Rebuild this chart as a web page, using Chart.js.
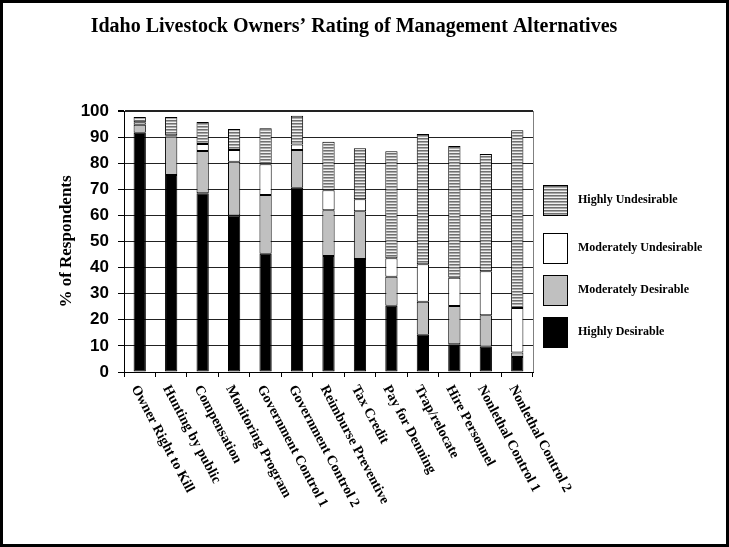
<!DOCTYPE html>
<html>
<head>
<meta charset="utf-8">
<script src="https://cdn.jsdelivr.net/npm/chart.js@4/dist/chart.umd.min.js"></script>
<style>
    html, body { margin: 0; padding: 0; background: #fff; }
    #wrap { width: 729px; height: 547px; position: relative; }
</style>
</head>
<body>
<div id="wrap"><canvas id="ratingChart" width="729" height="547"></canvas></div>
<script>
const chartTitle = 'Idaho Livestock Owners\u2019 Rating of Management Alternatives';
const yAxisTitle = '% of Respondents';

const alternatives = [
    'Owner Right to Kill', 'Hunting by public', 'Compensation', 'Monitoring Program',
    'Government Control 1', 'Government Control 2', 'Reimburse Preventive', 'Tax Credit',
    'Pay for Denning', 'Trap/relocate', 'Hire Personnel', 'Nonlethal Control 1', 'Nonlethal Control 2'
];

const seriesNames = ['Highly Desirable', 'Moderately Desirable', 'Moderately Undesirable', 'Highly Undesirable'];

// valeurs (%)
const highlyDesirable      = [91.7, 75.5, 68.5, 60.0, 45.3, 70.6, 44.4, 43.3, 25.4, 14.3, 10.6, 9.7, 5.7];
const moderatelyDesirable  = [3.0, 14.7, 16.2, 20.6, 22.5, 14.5, 17.6, 18.3, 11.1, 12.6, 14.7, 12.0, 1.8];
const moderatelyUndesirable = [1.0, 0.5, 2.7, 4.5, 11.8, 2.1, 7.6, 4.6, 7.1, 14.4, 10.8, 16.9, 17.0];
const highlyUndesirable    = [2.0, 7.0, 8.4, 8.0, 13.8, 11.0, 18.6, 19.5, 41.0, 49.9, 50.5, 44.9, 68.1];

const yTicks = [0, 10, 20, 30, 40, 50, 60, 70, 80, 90, 100];

// motif à rayures horizontales
function makeStripes() {
    const c = document.createElement('canvas');
    c.width = 4;
    c.height = 3;
    const g = c.getContext('2d');
    g.fillStyle = '#f0f0f0';
    g.fillRect(0, 0, 4, 3);
    g.fillStyle = '#707070';
    g.fillRect(0, 0, 4, 1);
    g.fillStyle = '#a8a8a8';
    g.fillRect(0, 1, 4, 1);
    return g.createPattern(c, 'repeat');
}

const stripes = makeStripes();
const fills = ['#000000', '#c0c0c0', '#ffffff', stripes];

const serif = '"Liberation Serif", "Times New Roman", serif';
const sans = '"Liberation Sans", Arial, sans-serif';

const decorPlugin = {
    id: 'decor',
    afterDraw(chart) {
        const ctx = chart.ctx;
        const area = chart.chartArea;
        const xScale = chart.scales.x;
        ctx.save();

        // titre
        ctx.fillStyle = '#000';
        ctx.font = 'bold 20px ' + serif;
        ctx.textAlign = 'center';
        ctx.textBaseline = 'middle';
        ctx.fillText(chartTitle, 354, 27);

        // bord droit de la zone
        ctx.strokeStyle = '#808080';
        ctx.lineWidth = 1;
        ctx.beginPath();
        ctx.moveTo(Math.round(area.right) + 0.5, area.top);
        ctx.lineTo(Math.round(area.right) + 0.5, area.bottom);
        ctx.stroke();

        // étiquettes x inclinées
        ctx.font = 'bold 14px ' + serif;
        ctx.textAlign = 'left';
        ctx.textBaseline = 'top';
        const angle = 62 * Math.PI / 180;
        alternatives.forEach((label, i) => {
            const x = xScale.getPixelForValue(i);
            ctx.save();
            ctx.translate(x + 1, area.bottom + 11);
            ctx.rotate(angle);
            ctx.fillText(label, 0, 0);
            ctx.restore();
        });

        // légende (ordre inverse)
        const boxTops = [317, 275, 233, 185];
        ctx.font = 'bold 12px ' + serif;
        ctx.textBaseline = 'middle';
        chart.data.datasets.forEach((ds, i) => {
            const top = boxTops[i];
            ctx.fillStyle = ds.backgroundColor;
            ctx.fillRect(543, top, 24, 30);
            ctx.strokeStyle = '#000';
            ctx.lineWidth = 1;
            ctx.strokeRect(543.5, top + 0.5, 24, 30);
            ctx.fillStyle = '#000';
            ctx.fillText(ds.label, 578, top + 15);
        });

        // cadre
        ctx.strokeStyle = '#000';
        ctx.lineWidth = 3;
        ctx.strokeRect(1.5, 1.5, 726, 544);
        ctx.restore();
    }
};

const ctx = document.getElementById('ratingChart');

new Chart(ctx, {
    type: 'bar',
    data: {
        labels: alternatives,
        datasets: [
            { label: seriesNames[0], data: highlyDesirable, backgroundColor: fills[0] },
            { label: seriesNames[1], data: moderatelyDesirable, backgroundColor: fills[1] },
            { label: seriesNames[2], data: moderatelyUndesirable, backgroundColor: fills[2] },
            { label: seriesNames[3], data: highlyUndesirable, backgroundColor: fills[3] }
        ].map(ds => Object.assign(ds, {
            borderColor: '#000',
            borderWidth: 1,
            borderSkipped: false,
            barPercentage: 0.39,
            categoryPercentage: 1
        }))
    },
    options: {
        responsive: false,
        animation: false,
        devicePixelRatio: 1,
        layout: { padding: { top: 111, left: 56, right: 196, bottom: 0 } },
        plugins: {
            legend: { display: false },
            title: { display: false },
            tooltip: { enabled: false }
        },
        scales: {
            x: {
                stacked: true,
                afterFit: s => { s.height = 175; },
                ticks: { display: false },
                grid: {
                    offset: true,
                    drawOnChartArea: false,
                    drawTicks: true,
                    tickLength: 5,
                    tickColor: '#000'
                },
                border: { display: true, color: '#000', width: 1 }
            },
            y: {
                stacked: true,
                min: 0,
                max: 100,
                afterFit: s => { s.width = 68; },
                afterBuildTicks: s => { s.ticks = yTicks.map(v => ({ value: v })); },
                ticks: {
                    color: '#000',
                    padding: 9,
                    font: { family: sans, size: 17, weight: 'bold' }
                },
                grid: {
                    color: '#222',
                    lineWidth: c => c.tick && c.tick.value === 100 ? 2 : 1,
                    tickLength: 6,
                    tickColor: '#000'
                },
                border: { display: true, color: '#000', width: 1 },
                title: {
                    display: true,
                    text: yAxisTitle,
                    color: '#000',
                    padding: 0,
                    font: { family: serif, size: 17, weight: 'bold' }
                }
            }
        }
    },
    plugins: [decorPlugin]
});
</script>
</body>
</html>
